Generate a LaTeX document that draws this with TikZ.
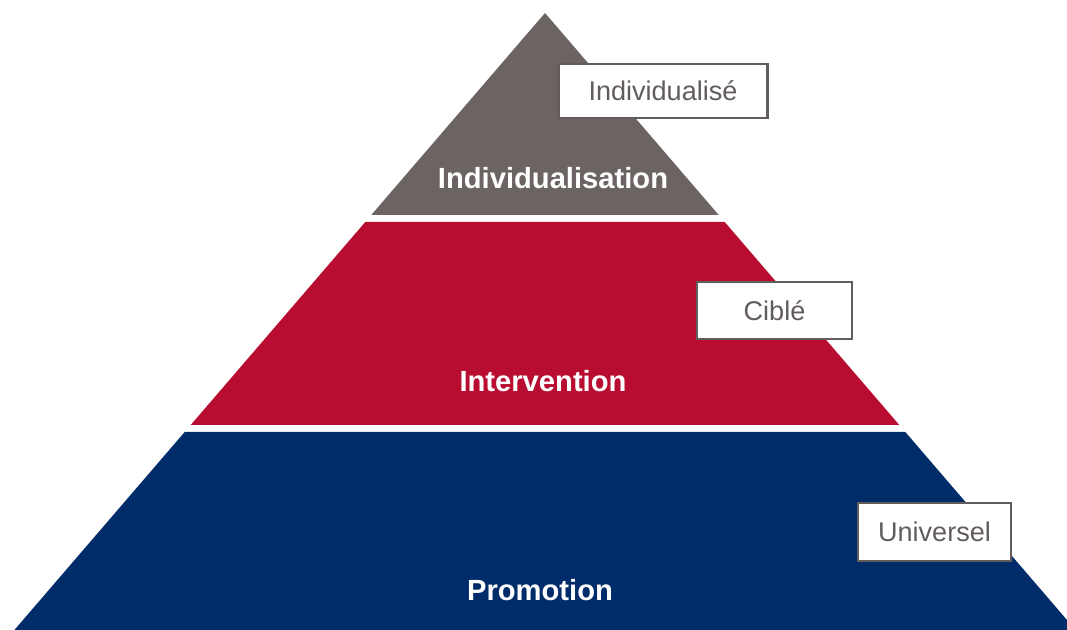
\documentclass[tikz,border=0pt]{standalone}
\usepackage{fontspec}
\setmainfont{Liberation Sans}
\usepackage{tikz}
\usepackage{xcolor}

\definecolor{tiergray}{HTML}{6B6462}
\definecolor{tierred}{HTML}{B80D30}
\definecolor{tierblue}{HTML}{002D6A}
\definecolor{taggray}{HTML}{625C5B}

\begin{document}
\begin{tikzpicture}[
  tierlabel/.style={text=white, font=\fontsize{8.3}{10}\selectfont\bfseries},
  tagbox/.style={draw=taggray, line width=0.6pt, fill=white, text=taggray,
    inner sep=0pt, font=\fontsize{7.7}{9}\selectfont}
]
\useasboundingbox (0,0) rectangle (10.67,6.30);
\clip (0,0) rectangle (10.67,6.30);

% the three layers, one triangle cut by white gaps
\fill[tiergray] (5.45,6.17) -- (7.187,4.15) -- (3.713,4.15) -- cycle;
\fill[tierred] (3.653,4.08) -- (7.247,4.08) -- (8.993,2.05) -- (1.907,2.05) -- cycle;
\fill[tierblue] (1.847,1.98) -- (9.053,1.98) -- (10.756,0) -- (0.144,0) -- cycle;

% layer names
\node[tierlabel] (indiv) at (5.53,4.52) {Individualisation};
\node[tierlabel] (interv) at (5.43,2.49) {Intervention};
\node[tierlabel] (promo) at (5.40,0.40) {Promotion};

% side tags
\node[tagbox, minimum width=2.09cm, minimum height=0.54cm] (individualise) at (6.63,5.39) {Individualisé};
\node[tagbox, minimum width=1.55cm, minimum height=0.57cm] (cible) at (7.745,3.195) {Ciblé};
\node[tagbox, minimum width=1.53cm, minimum height=0.58cm] (universel) at (9.345,0.98) {Universel};
\end{tikzpicture}
\end{document}
